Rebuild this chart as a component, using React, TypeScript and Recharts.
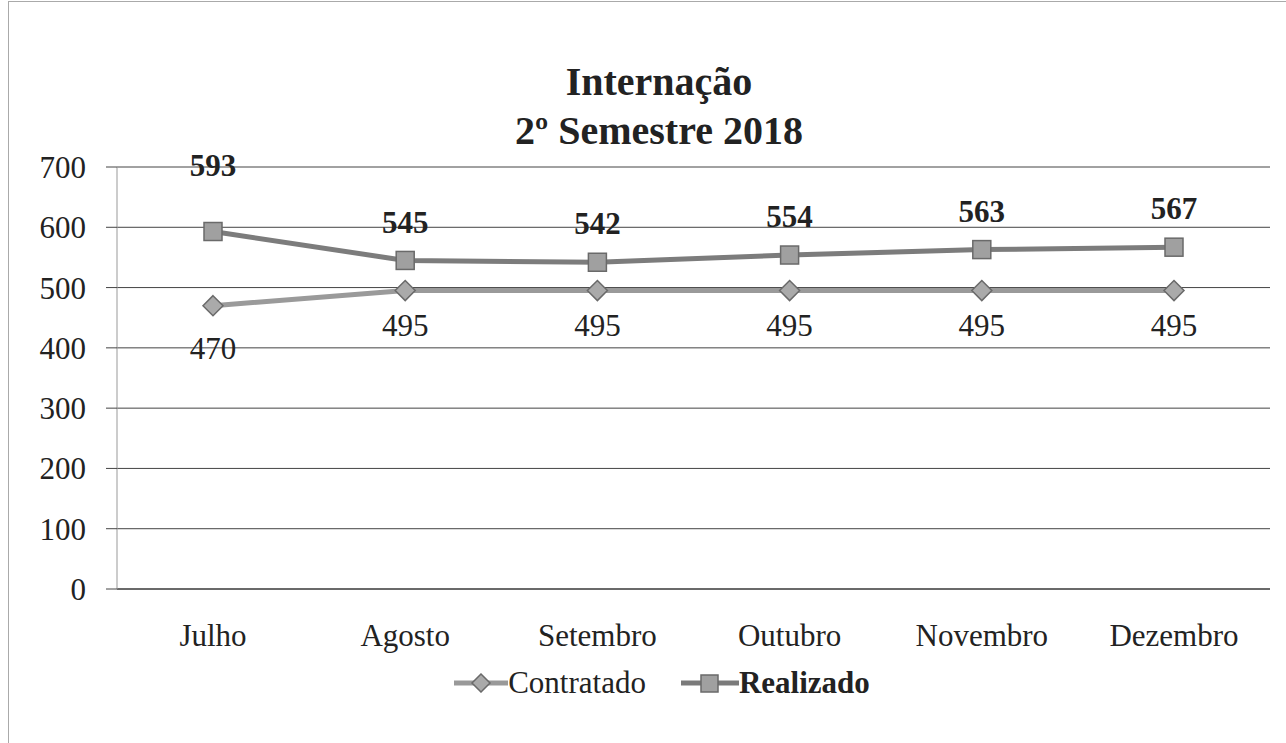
import React from "react";
import {
  LineChart,
  Line,
  XAxis,
  YAxis,
  CartesianGrid,
  Legend,
  LabelList,
} from "recharts";

const MONTHS = ["Julho", "Agosto", "Setembro", "Outubro", "Novembro", "Dezembro"];
const CONTRATADO = [470, 495, 495, 495, 495, 495];
const REALIZADO = [593, 545, 542, 554, 563, 567];
const Y_TICKS = [0, 100, 200, 300, 400, 500, 600, 700];

const data = MONTHS.map((m, i) => ({
  month: m,
  contratado: CONTRATADO[i],
  realizado: REALIZADO[i],
}));

const FONT = "'Times New Roman', 'Liberation Serif', Tinos, 'DejaVu Serif', serif";

const Square = (props: any) => {
  const { cx, cy } = props;
  if (cx == null || cy == null) return null;
  return (
    <rect x={cx - 9} y={cy - 9} width={18} height={18} fill="#a0a0a0" stroke="#6a6a6a" strokeWidth={1.5} />
  );
};

const Diamond = (props: any) => {
  const { cx, cy } = props;
  if (cx == null || cy == null) return null;
  return (
    <polygon
      points={`${cx},${cy - 10} ${cx + 10},${cy} ${cx},${cy + 10} ${cx - 10},${cy}`}
      fill="#aaaaaa"
      stroke="#6a6a6a"
      strokeWidth={1.5}
    />
  );
};

const RealLabel = (props: any) => {
  const { x, y, value, index } = props;
  const dy = index === 0 ? -63 : -35;
  return (
    <text x={x} y={y + dy} textAnchor="middle" dominantBaseline="middle" fontFamily={FONT} fontWeight="bold" fontSize={31} fill="#222">
      {value}
    </text>
  );
};

const ContLabel = (props: any) => {
  const { x, y, value, index } = props;
  const dy = index === 0 ? 46 : 38;
  return (
    <text x={x} y={y + dy} textAnchor="middle" dominantBaseline="middle" fontFamily={FONT} fontSize={31} fill="#222">
      {value}
    </text>
  );
};

const LegendContent = () => (
  <div style={{ display: "flex", justifyContent: "center", alignItems: "center", gap: 35, fontFamily: FONT, fontSize: 31, lineHeight: "36px", color: "#222", marginLeft: 54 }}>
    <span style={{ display: "flex", alignItems: "center" }}>
      <svg width={54} height={20}>
        <line x1={0} y1={10} x2={54} y2={10} stroke="#999" strokeWidth={5} />
        <polygon points="27,1 36,10 27,19 18,10" fill="#aaa" stroke="#6a6a6a" strokeWidth={1.5} />
      </svg>
      Contratado
    </span>
    <span style={{ display: "flex", alignItems: "center", fontWeight: "bold" }}>
      <svg width={58} height={20}>
        <line x1={0} y1={10} x2={58} y2={10} stroke="#7a7a7a" strokeWidth={5} />
        <rect x={20} y={2} width={17} height={17} fill="#a0a0a0" stroke="#6a6a6a" strokeWidth={1.5} />
      </svg>
      Realizado
    </span>
  </div>
);

export default function App() {
  return (
    <div style={{ position: "absolute", left: 0, top: 0, width: 1286, height: 743, background: "#fff" }}>
      <div
        style={{
          position: "absolute",
          left: 8,
          top: 1,
          right: -2,
          bottom: -2,
          borderLeft: "1px solid #aaa",
          borderTop: "1px solid #aaa",
        }}
      />
      <div
        style={{
          position: "absolute",
          left: 0,
          top: 57,
          width: 1286,
          textAlign: "center",
          fontFamily: FONT,
          fontWeight: "bold",
          fontSize: 40,
          lineHeight: "49px",
          color: "#222",
          paddingLeft: 32,
          boxSizing: "border-box",
        }}
      >
        Internação
        <br />
        2º Semestre 2018
      </div>
      <div style={{ position: "absolute", left: 0, top: 0 }}>
        <LineChart width={1286} height={743} data={data} margin={{ top: 167, right: 16, bottom: 58, left: 0 }}>
          <CartesianGrid vertical={false} stroke="#444" strokeWidth={1} />
          <XAxis
            dataKey="month"
            height={60}
            padding={{ left: 96, right: 96 }}
            axisLine={{ stroke: "#333" }}
            tickLine={false}
            tick={{ fontFamily: FONT, fontSize: 31, fill: "#222" }}
            tickMargin={29}
            interval={0}
          />
          <YAxis
            width={117}
            domain={[0, 700]}
            ticks={Y_TICKS}
            axisLine={{ stroke: "#999" }}
            tickLine={{ stroke: "#444" }}
            tickSize={11}
            tickMargin={20}
            tick={{ fontFamily: FONT, fontSize: 31, fill: "#222" }}
          />
          <Legend verticalAlign="bottom" content={LegendContent} wrapperStyle={{ bottom: 42 }} />
          <Line
            type="linear"
            dataKey="contratado"
            stroke="#9a9a9a"
            strokeWidth={5}
            dot={<Diamond />}
            isAnimationActive={false}
          >
            <LabelList dataKey="contratado" content={<ContLabel />} />
          </Line>
          <Line
            type="linear"
            dataKey="realizado"
            stroke="#7c7c7c"
            strokeWidth={5}
            dot={<Square />}
            isAnimationActive={false}
          >
            <LabelList dataKey="realizado" content={<RealLabel />} />
          </Line>
        </LineChart>
      </div>
    </div>
  );
}
